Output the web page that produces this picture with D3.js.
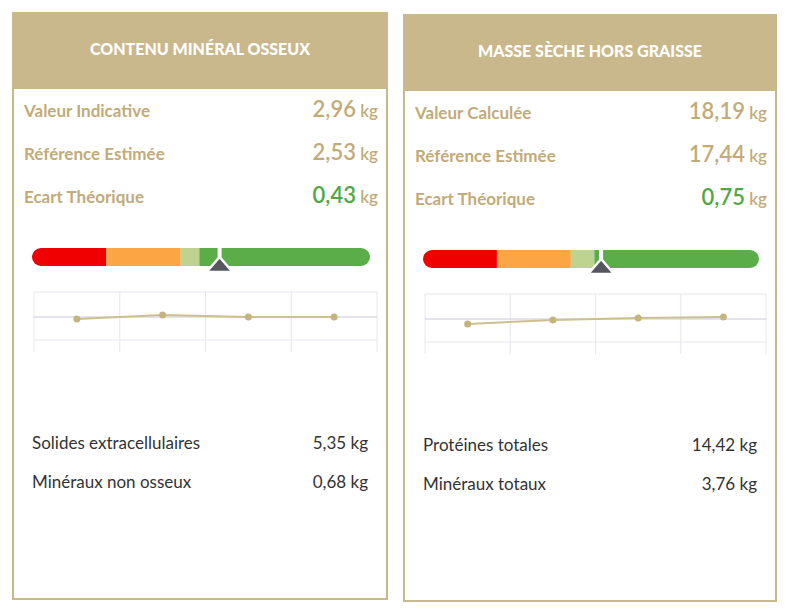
<!DOCTYPE html>
<html><head><meta charset="utf-8">
<script src="https://cdn.jsdelivr.net/npm/d3@7"></script>
<style>body{margin:0;background:#fff;font-family:Lato,"Open Sans",sans-serif}</style>
</head><body><svg id="c" width="790" height="613"></svg>
<script>
// data per card
var titles = ["CONTENU MINÉRAL OSSEUX", "MASSE SÈCHE HORS GRAISSE"];
var rowLabels = [["Valeur Indicative", "Référence Estimée", "Ecart Théorique"],
                 ["Valeur Calculée", "Référence Estimée", "Ecart Théorique"]];
var rowValues = [["2,96", "2,53", "0,43"], ["18,19", "17,44", "0,75"]];
var gaugeSegments = [[0, 22, 44, 49.5, 100], [0, 22, 44, 51, 100]];
var gaugeMarker = [55.5, 53];
var trendValues = [[-0.08, 0.08, 0, 0], [-0.2, -0.04, 0.04, 0.08]];
var footLabels = [["Solides extracellulaires", "Minéraux non osseux"], ["Protéines totales", "Minéraux totaux"]];
var footValues = [["5,35 kg", "0,68 kg"], ["14,42 kg", "3,76 kg"]];

var segColors = ["#f00000", "#fba544", "#bfd390", "#5bad4a"];
var gold = "#c9b88c", labelCol = "#c2ab78";
var svg = d3.select("#c");
var cards = [{x: 12, y: 12, w: 376, h: 588}, {x: 403, y: 14, w: 374, h: 588}];

cards.forEach(function (cd, k) {
  var g = svg.append("g").attr("transform", "translate(" + cd.x + "," + cd.y + ")");
  g.append("rect").attr("x", 1).attr("y", 1).attr("width", cd.w - 2).attr("height", cd.h - 2)
    .attr("fill", "#fff").attr("stroke", gold).attr("stroke-width", 2);
  g.append("rect").attr("width", cd.w).attr("height", 77).attr("fill", gold);
  g.append("text").attr("x", cd.w / 2).attr("y", 43).attr("text-anchor", "middle")
    .attr("fill", "#fff").attr("font-weight", 900).attr("font-size", 16).text(titles[k]);

  rowLabels[k].forEach(function (l, i) {
    var y = 105 + i * 43;
    g.append("text").attr("x", 12).attr("y", y).attr("fill", labelCol)
      .attr("font-weight", 700).attr("font-size", 17).text(l);
    var t = g.append("text").attr("x", cd.w - 10).attr("y", y).attr("text-anchor", "end")
      .attr("font-size", 22).attr("font-weight", 600).attr("fill", i == 2 ? "#4fa844" : labelCol);
    t.append("tspan").text(rowValues[k][i]);
    t.append("tspan").attr("font-size", 17).attr("fill", labelCol).text(" kg");
  });

  // gauge
  var gx = d3.scaleLinear().domain([0, 100]).range([20, cd.w - 18]);
  var gy = 236, gh = 18, segs = gaugeSegments[k];
  var clip = "clip" + k;
  g.append("clipPath").attr("id", clip).append("rect").attr("x", gx(0)).attr("y", gy)
    .attr("width", gx(100) - gx(0)).attr("height", gh).attr("rx", 9);
  var gg = g.append("g").attr("clip-path", "url(#" + clip + ")");
  segColors.forEach(function (c, i) {
    gg.append("rect").attr("x", gx(segs[i])).attr("y", gy)
      .attr("width", gx(segs[i + 1]) - gx(segs[i])).attr("height", gh).attr("fill", c);
  });
  var mx = gx(gaugeMarker[k]);
  g.append("line").attr("x1", mx).attr("x2", mx).attr("y1", gy - 2).attr("y2", gy + gh)
    .attr("stroke", "#fff").attr("stroke-width", 4);
  g.append("path").attr("d", "M" + (mx - 13) + "," + (gy + gh + 6) + "L" + mx + "," + (gy + gh - 9) + "L" + (mx + 13) + "," + (gy + gh + 6) + "Z")
    .attr("fill", "#55565f").attr("stroke", "#fff").attr("stroke-width", 2.5).attr("stroke-linejoin", "round");

  // trend chart
  var tx = d3.scaleBand().domain(d3.range(4)).range([22, cd.w - 11]);
  var ty = d3.scaleLinear().domain([-1, 1]).range([330, 280]);
  var tg = g.append("g");
  tx.domain().concat([4]).forEach(function (i) {
    var x = i < 4 ? tx(i) : tx.range()[1];
    tg.append("line").attr("x1", x).attr("x2", x).attr("y1", 280).attr("y2", 340).attr("stroke", "#e6e7f0");
  });
  [280, 305, 328].forEach(function (y, i) {
    tg.append("line").attr("x1", 22).attr("x2", cd.w - 11).attr("y1", y).attr("y2", y)
      .attr("stroke", i == 1 ? "#c8c9d8" : "#e6e7f0");
  });
  var line = d3.line().x(function (d, i) { return tx(i) + tx.bandwidth() / 2; }).y(function (d) { return ty(d); });
  tg.append("path").attr("d", line(trendValues[k])).attr("fill", "none").attr("stroke", "#cdbf8e").attr("stroke-width", 2);
  tg.selectAll("circle").data(trendValues[k]).enter().append("circle")
    .attr("cx", function (d, i) { return tx(i) + tx.bandwidth() / 2; }).attr("cy", ty)
    .attr("r", 3.5).attr("fill", "#c4b57f");

  footLabels[k].forEach(function (l, i) {
    var y = 437 + i * 39;
    g.append("text").attr("x", 20).attr("y", y).attr("font-size", 17).attr("fill", "#333").text(l);
    g.append("text").attr("x", cd.w - 20).attr("y", y).attr("text-anchor", "end")
      .attr("font-size", 17).attr("fill", "#333").text(footValues[k][i]);
  });
});
</script></body></html>
